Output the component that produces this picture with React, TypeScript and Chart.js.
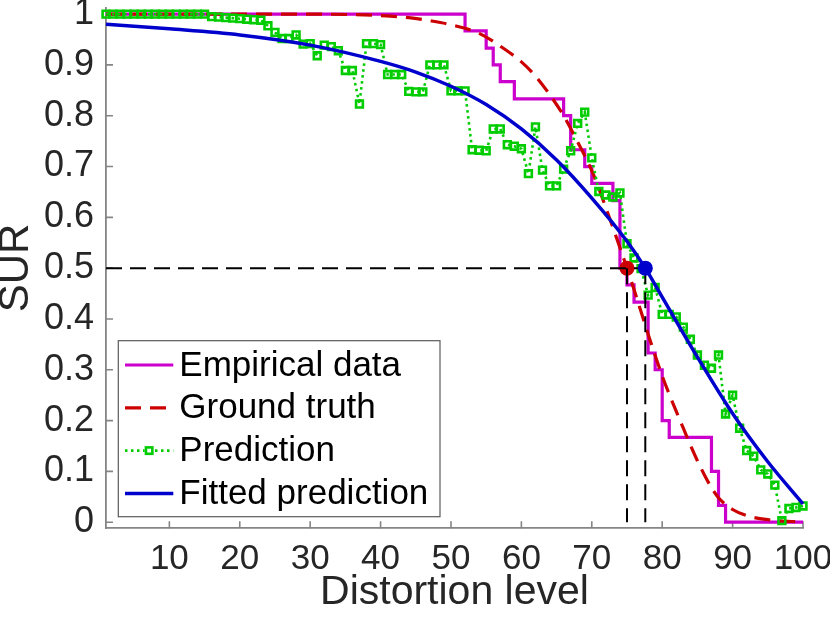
import React, { useEffect, useRef } from "react";
import { Chart, registerables } from "chart.js";

Chart.register(...registerables);

// ---------- data ----------
const X_TICKS = [10, 20, 30, 40, 50, 60, 70, 80, 90, 100];
const Y_TICKS = [0, 0.1, 0.2, 0.3, 0.4, 0.5, 0.6, 0.7, 0.8, 0.9, 1];

// Empirical data (stairs), breakpoints
const EMP_X = [1, 52, 55, 56, 57, 59, 66, 67, 69, 70, 73, 74, 75, 76, 78, 79, 80, 81, 87, 88, 89, 100];
const EMP_Y = [1, 0.967, 0.933, 0.9, 0.867, 0.833, 0.8, 0.733, 0.7, 0.667, 0.633, 0.5, 0.467, 0.433, 0.333, 0.3, 0.2, 0.167, 0.1, 0.033, 0, 0];

// Ground truth (smooth)
const GT_X = [1, 30, 36, 40, 44, 47, 50, 54, 57, 60, 62, 64, 66, 68, 70, 71, 72, 73, 74, 75, 76, 77, 78, 79, 80, 81, 82, 83, 84, 85, 86, 87, 88, 90, 92, 95, 100];
const GT_Y = [1, 1, 0.999, 0.997, 0.993, 0.987, 0.979, 0.962, 0.937, 0.906, 0.878, 0.842, 0.8, 0.748, 0.692, 0.657, 0.619, 0.58, 0.54, 0.5, 0.458, 0.414, 0.37, 0.328, 0.288, 0.252, 0.218, 0.185, 0.152, 0.121, 0.093, 0.068, 0.048, 0.025, 0.013, 0.005, 0];

// Prediction (one value per distortion level 1..100)
const PRED_X = [
  1, 2, 3, 4, 5, 6, 7, 8, 9, 10, 11, 12, 13, 14, 15, 16, 17, 18, 19, 20,
  21, 22, 23, 24, 25, 26, 27, 28, 29, 30, 31, 32, 33, 34, 35, 36, 37, 38, 39, 40,
  41, 42, 43, 44, 45, 46, 47, 48, 49, 50, 51, 52, 53, 54, 55, 56, 57, 58, 59, 60,
  61, 62, 63, 64, 65, 66, 67, 68, 69, 70, 71, 72, 73, 74, 75, 76, 77, 78, 79, 80,
  81, 82, 83, 84, 85, 86, 87, 88, 89, 90, 91, 92, 93, 94, 95, 96, 97, 98, 99, 100,
];
const PRED_Y = [
  1, 1, 1, 1, 1, 1, 1, 1, 1, 1, 1, 1, 1, 1, 1, 0.995, 0.994, 0.993, 0.992, 0.991,
  0.99, 0.989, 0.988, 0.977, 0.964, 0.952, 0.952, 0.959, 0.941, 0.942, 0.918, 0.939, 0.936, 0.928, 0.889, 0.889, 0.823, 0.942, 0.942, 0.94,
  0.881, 0.881, 0.881, 0.848, 0.847, 0.847, 0.9, 0.9, 0.9, 0.849, 0.849, 0.849, 0.733, 0.732, 0.731, 0.774, 0.774, 0.743, 0.74, 0.735,
  0.686, 0.778, 0.693, 0.662, 0.662, 0.695, 0.731, 0.785, 0.807, 0.717, 0.651, 0.644, 0.64, 0.648, 0.548, 0.52, 0.499, 0.447, 0.462, 0.409,
  0.409, 0.404, 0.384, 0.36, 0.329, 0.309, 0.303, 0.329, 0.213, 0.25, 0.185, 0.141, 0.13, 0.103, 0.095, 0.073, 0.003, 0.027, 0.029, 0.032,
];

// Fitted prediction (smooth)
const FIT_X = [1, 10, 20, 30, 40, 45, 50, 55, 60, 65, 70, 75, 77.6, 80, 85, 90, 95, 100];
const FIT_Y = [0.98, 0.971, 0.959, 0.939, 0.907, 0.886, 0.858, 0.822, 0.774, 0.713, 0.638, 0.553, 0.5, 0.443, 0.325, 0.214, 0.119, 0.036];

// 50% points
const GT_HALF = { x: 75, y: 0.5 };
const FIT_HALF = { x: 77.6, y: 0.5 };

const LEGEND_LABELS = ["Empirical data", "Ground truth", "Prediction", "Fitted prediction"];
const X_TITLE = "Distortion level";
const Y_TITLE = "SUR";

// ---------- style ----------
const MAGENTA = "#CC00CC";
const RED = "#CC0000";
const GREEN = "#00CC00";
const BLUE = "#0000CC";
const TEXT = "#262626";
const AXIS = "#858585";
const FONT = "'Liberation Sans', Arial, Helvetica, sans-serif";

const pts = (xs: number[], ys: number[]) => xs.map((x, i) => ({ x, y: ys[i] }));

const inwardTicks = {
  id: "inwardTicks",
  beforeDatasetsDraw(chart: any) {
    const { ctx, chartArea, scales } = chart;
    const xs = scales.x;
    const ys = scales.y;
    ctx.save();
    ctx.strokeStyle = AXIS;
    ctx.lineWidth = 1.6;
    ctx.beginPath();
    for (const v of X_TICKS) {
      const px = xs.getPixelForValue(v);
      ctx.moveTo(px, chartArea.bottom);
      ctx.lineTo(px, chartArea.bottom - 7);
    }
    for (const v of Y_TICKS) {
      const py = ys.getPixelForValue(v);
      ctx.moveTo(chartArea.left, py);
      ctx.lineTo(chartArea.left + 7, py);
    }
    ctx.stroke();
    ctx.restore();
  },
};

const boxLegend = {
  id: "boxLegend",
  afterDraw(chart: any) {
    const { ctx, chartArea } = chart;
    const left = chartArea.left + 12.3;
    const bottom = chartArea.bottom - 11.6;
    const w = 321.7;
    const h = 176;
    const top = bottom - h;
    ctx.save();
    ctx.fillStyle = "#ffffff";
    ctx.fillRect(left, top, w, h);
    ctx.strokeStyle = "#5a5a5a";
    ctx.lineWidth = 1.2;
    ctx.strokeRect(left, top, w, h);
    const styles = [
      { color: MAGENTA, dash: [] as number[], width: 3.2, marker: false },
      { color: RED, dash: [16, 9], width: 3.2, marker: false },
      { color: GREEN, dash: [2.5, 3.5], width: 2.6, marker: true },
      { color: BLUE, dash: [] as number[], width: 3.5, marker: false },
    ];
    LEGEND_LABELS.forEach((label, i) => {
      const y = top + 24.3 + i * 42.8;
      const s = styles[i];
      const x0 = left + 6.7;
      const x1 = left + 55;
      ctx.strokeStyle = s.color;
      ctx.lineWidth = s.width;
      ctx.setLineDash(s.dash);
      ctx.beginPath();
      ctx.moveTo(x0, y);
      ctx.lineTo(x1, y);
      ctx.stroke();
      ctx.setLineDash([]);
      if (s.marker) {
        const cx = (x0 + x1) / 2;
        ctx.fillStyle = "#ffffff";
        ctx.fillRect(cx - 4.5, y - 4.5, 9, 9);
        ctx.lineWidth = 2.6;
        ctx.strokeRect(cx - 3.2, y - 3.2, 6.4, 6.4);
      }
      ctx.fillStyle = "#000000";
      ctx.font = `35px ${FONT}`;
      ctx.textBaseline = "middle";
      ctx.textAlign = "left";
      ctx.fillText(label, left + 61, y + 1);
    });
    ctx.restore();
  },
};

export default function App() {
  const ref = useRef<HTMLCanvasElement | null>(null);

  useEffect(() => {
    document.body.style.margin = "0";
    const canvas = ref.current;
    if (!canvas) return;

    const chart = new Chart(canvas, {
      type: "line",
      data: {
        datasets: [
          {
            label: LEGEND_LABELS[0],
            data: pts(EMP_X, EMP_Y),
            borderColor: MAGENTA,
            borderWidth: 3.2,
            stepped: true,
            pointRadius: 0,
            fill: false,
            order: 7,
            clip: false,
          } as any,
          {
            label: LEGEND_LABELS[1],
            data: pts(GT_X, GT_Y),
            borderColor: RED,
            borderWidth: 3.2,
            borderDash: [16, 9],
            cubicInterpolationMode: "monotone",
            pointRadius: 0,
            fill: false,
            order: 6,
            clip: false,
          },
          {
            label: LEGEND_LABELS[2],
            data: pts(PRED_X, PRED_Y),
            borderColor: GREEN,
            borderWidth: 2.6,
            borderDash: [2.5, 3.5],
            pointStyle: "rect",
            pointRadius: 4.8,
            pointBorderWidth: 2.6,
            pointBorderColor: GREEN,
            pointBackgroundColor: "rgba(0,0,0,0)",
            fill: false,
            order: 5,
            clip: false,
          },
          {
            label: LEGEND_LABELS[3],
            data: pts(FIT_X, FIT_Y),
            borderColor: BLUE,
            borderWidth: 3.5,
            cubicInterpolationMode: "monotone",
            pointRadius: 0,
            fill: false,
            order: 4,
            clip: false,
          },
          {
            label: "gt50",
            data: [GT_HALF],
            showLine: false,
            pointRadius: 7.5,
            pointBorderWidth: 0,
            pointBackgroundColor: RED,
            pointBorderColor: RED,
            order: 3,
            clip: false,
          },
          {
            label: "hline",
            data: [{ x: 1, y: 0.5 }, FIT_HALF],
            borderColor: "#000000",
            borderWidth: 2,
            borderDash: [16, 8],
            pointRadius: 0,
            order: 2,
          },
          {
            label: "vline1",
            data: [GT_HALF, { x: GT_HALF.x, y: 0 }],
            borderColor: "#000000",
            borderWidth: 2,
            borderDash: [16, 8],
            pointRadius: 0,
            order: 2,
          },
          {
            label: "vline2",
            data: [FIT_HALF, { x: FIT_HALF.x, y: 0 }],
            borderColor: "#000000",
            borderWidth: 2,
            borderDash: [16, 8],
            pointRadius: 0,
            order: 2,
          },
          {
            label: "fit50",
            data: [FIT_HALF],
            showLine: false,
            pointRadius: 7.5,
            pointBorderWidth: 0,
            pointBackgroundColor: BLUE,
            pointBorderColor: BLUE,
            order: 1,
            clip: false,
          },
        ],
      },
      options: {
        responsive: false,
        animation: false,
        events: [],
        devicePixelRatio: 1,
        layout: { padding: { top: 6.7, right: 27, left: 0, bottom: 0 } },
        plugins: {
          legend: { display: false },
          tooltip: { enabled: false },
        },
        scales: {
          x: {
            type: "linear",
            min: 1,
            max: 100,
            afterBuildTicks: (s: any) => {
              s.ticks = X_TICKS.map((v) => ({ value: v }));
            },
            afterFit: (s: any) => {
              s.height = 96.7;
              s.paddingLeft = 0;
              s.paddingRight = 0;
            },
            grid: { display: true, drawOnChartArea: false, drawTicks: false },
            border: { display: true, color: AXIS, width: 1.8 },
            ticks: {
              autoSkip: false,
              maxRotation: 0,
              minRotation: 0,
              padding: 10,
              color: TEXT,
              font: { family: FONT, size: 35 },
              callback: (v: any) => String(v),
            },
            title: {
              display: true,
              text: X_TITLE,
              color: TEXT,
              font: { family: FONT, size: 41, lineHeight: 1 },
              padding: { top: 0, bottom: 12 },
            },
          },
          y: {
            type: "linear",
            min: -0.012,
            max: 1.013,
            afterBuildTicks: (s: any) => {
              s.ticks = Y_TICKS.map((v) => ({ value: v }));
            },
            afterFit: (s: any) => {
              s.width = 106;
              s.paddingTop = 0;
              s.paddingBottom = 0;
            },
            grid: { display: true, drawOnChartArea: false, drawTicks: false },
            border: { display: true, color: AXIS, width: 1.8 },
            ticks: {
              autoSkip: false,
              padding: 12,
              color: TEXT,
              font: { family: FONT, size: 36 },
              callback: (v: any) => String(Number(Number(v).toFixed(1))),
            },
            title: {
              display: true,
              text: Y_TITLE,
              color: TEXT,
              font: { family: FONT, size: 42, lineHeight: 0.8 },
              padding: { top: 0, bottom: 0 },
            },
          },
        },
      },
      plugins: [inwardTicks, boxLegend],
    });

    return () => {
      chart.destroy();
    };
  }, []);

  return (
    <canvas
      ref={ref}
      width={830}
      height={625}
      style={{ display: "block", width: 830, height: 625 }}
    />
  );
}
